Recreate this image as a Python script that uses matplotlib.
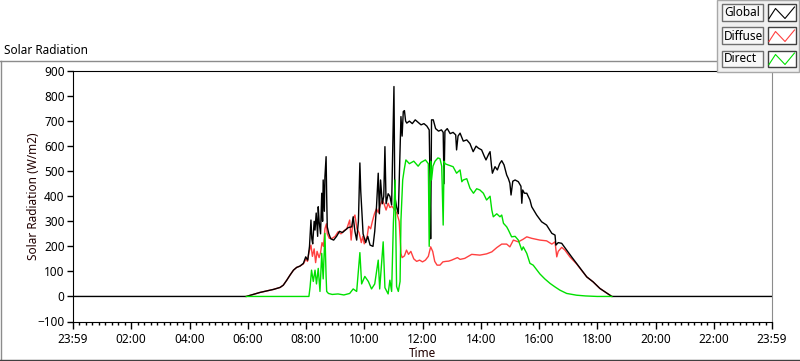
import matplotlib
matplotlib.use('Agg')
import matplotlib.pyplot as plt
from matplotlib.patches import Rectangle
from matplotlib.lines import Line2D

plt.rcParams['font.family'] = ['Noto Sans', 'DejaVu Sans']

# time in hours after 23:59 of the previous day, values in W/m2
global_t = [0.0, 5.95, 6.19, 6.42, 6.65, 6.88, 7.11, 7.22, 7.34, 7.45, 7.57, 7.68, 7.79, 7.91,
            7.99, 8.06, 8.12, 8.17, 8.20, 8.23, 8.28, 8.31, 8.35, 8.40, 8.42, 8.45, 8.50, 8.54,
            8.57, 8.59, 8.63, 8.65, 8.69, 8.71, 8.73, 8.78, 8.85, 8.95, 9.05, 9.15, 9.25, 9.35,
            9.45, 9.57, 9.62, 9.68, 9.74, 9.80, 9.85, 9.88, 9.91, 9.96, 10.05, 10.12, 10.20,
            10.30, 10.36, 10.42, 10.48, 10.52, 10.56, 10.62, 10.67, 10.71, 10.75, 10.82, 10.88,
            10.94, 10.99, 11.02, 11.05, 11.11, 11.17, 11.21, 11.26, 11.30, 11.34, 11.38, 11.42,
            11.46, 11.55, 11.65, 11.75, 11.85, 11.95, 12.05, 12.15, 12.23, 12.26, 12.28, 12.31,
            12.37, 12.45, 12.55, 12.65, 12.71, 12.74, 12.77, 12.85, 12.95, 13.05, 13.14, 13.17,
            13.22, 13.29, 13.40, 13.52, 13.63, 13.74, 13.84, 13.92, 14.03, 14.12, 14.18, 14.28,
            14.32, 14.37, 14.40, 14.49, 14.57, 14.65, 14.72, 14.80, 14.89, 14.95, 15.00, 15.04,
            15.10, 15.18, 15.29, 15.38, 15.41, 15.44, 15.50, 15.58, 15.69, 15.75, 15.92, 16.09,
            16.26, 16.44, 16.55, 16.58, 16.66, 16.78, 16.95, 17.12, 17.29, 17.47, 17.64, 17.86,
            18.09, 18.32, 18.50, 24.0]
global_v = [0, 0, 8, 16, 22, 28, 36, 45, 65, 85, 105, 116, 121, 132,
            158, 145, 200, 305, 230, 210, 300, 265, 333, 240, 358, 300, 250, 412,
            300, 465, 340, 478, 558, 400, 278, 252, 230, 225, 240, 260, 255, 265,
            275, 278, 318, 260, 225, 300, 533, 420, 357, 250, 215, 240, 205,
            200, 260, 357, 492, 330, 465, 370, 400, 598, 370, 410, 400,
            365, 665, 838, 400, 357, 330, 500, 718, 640, 738, 742, 700,
            692, 700, 690, 705, 695, 685, 690, 680, 665, 450, 230, 705,
            705, 670, 660, 665, 655, 450, 660, 670, 650, 655, 645, 585,
            640, 652, 620, 625, 610, 578, 600, 592, 585, 560, 545, 570,
            578, 520, 492, 518, 505, 530, 542, 525, 485, 470, 452, 405,
            460, 465, 458, 440, 372, 425, 412, 412, 385, 358, 325, 298,
            285, 252, 245, 205, 215, 212, 185, 158, 132, 105, 78, 58,
            32, 14, 0, 0]

diffuse_t = [5.95, 6.19, 6.42, 6.65, 6.88, 7.11, 7.22, 7.34, 7.45, 7.57, 7.68, 7.79, 7.91,
             8.00, 8.05, 8.10, 8.17, 8.22, 8.28, 8.33, 8.38, 8.45, 8.50, 8.55, 8.60, 8.65,
             8.70, 8.73, 8.80, 8.90, 9.00, 9.10, 9.20, 9.30, 9.40, 9.50, 9.55, 9.62, 9.68,
             9.75, 9.82, 9.90, 9.95, 10.00, 10.05, 10.10, 10.15, 10.22, 10.28, 10.35, 10.42,
             10.48, 10.55, 10.62, 10.68, 10.75, 10.82, 10.88, 10.95, 11.05, 11.12, 11.20,
             11.26, 11.30, 11.38, 11.45, 11.52, 11.60, 11.70, 11.80, 11.90, 12.00, 12.10,
             12.20, 12.28, 12.35, 12.42, 12.50, 12.60, 12.70, 12.80, 12.90, 13.00, 13.10,
             13.20, 13.29, 13.45, 13.69, 13.97, 14.20, 14.38, 14.55, 14.72, 14.89, 15.00,
             15.12, 15.29, 15.45, 15.58, 15.75, 16.03, 16.26, 16.44, 16.55, 16.61, 16.66,
             16.78, 16.89, 17.06, 17.29, 17.47, 17.64, 17.86, 18.09, 18.32, 18.50]
diffuse_v = [0, 8, 16, 22, 28, 36, 45, 65, 85, 105, 116, 121, 130,
             150, 140, 175, 205, 160, 190, 135, 180, 155, 175, 215, 200, 270,
             290, 250, 232, 232, 240, 258, 250, 262, 270, 305, 225, 310, 325,
             270, 255, 215, 240, 210, 225, 240, 280, 270, 300, 330, 350,
             335, 365, 385, 370, 345, 372, 355, 360, 345, 332, 300,
             172, 155, 162, 185, 168, 180, 150, 140, 145, 138, 145,
             160, 198, 180, 140, 125, 125, 138, 140, 141, 145, 150,
             155, 148, 152, 168, 165, 170, 178, 195, 209, 209, 198,
             225, 218, 228, 238, 232, 225, 222, 209, 218, 158, 180,
             196, 185, 158, 130, 103, 78, 58, 32, 14, 0]

direct_t = [5.95, 8.10, 8.14, 8.19, 8.25, 8.31, 8.36, 8.42, 8.48, 8.54, 8.59, 8.65, 8.69,
            8.71, 8.77, 8.90, 9.10, 9.30, 9.50, 9.62, 9.74, 9.85, 9.91, 10.02, 10.14, 10.25,
            10.36, 10.48, 10.53, 10.65, 10.71, 10.82, 10.88, 10.94, 11.00, 11.06, 11.11,
            11.17, 11.23, 11.26, 11.32, 11.37, 11.43, 11.55, 11.70, 11.85, 11.95, 12.10,
            12.20, 12.23, 12.28, 12.31, 12.36, 12.43, 12.53, 12.60, 12.66, 12.71, 12.74,
            12.77, 12.88, 13.05, 13.17, 13.29, 13.35, 13.40, 13.52, 13.63, 13.75, 13.86,
            13.97, 14.09, 14.20, 14.32, 14.38, 14.43, 14.55, 14.66, 14.72, 14.78, 14.89,
            14.95, 15.06, 15.18, 15.29, 15.41, 15.46, 15.58, 15.69, 15.80, 16.03, 16.20,
            16.38, 16.55, 16.72, 16.95, 17.29, 17.60, 18.00, 18.50]
direct_v = [0, 0, 38, 105, 60, 105, 50, 112, 20, 172, 70, 252, 80,
            20, 12, 8, 10, 6, 12, 30, 20, 175, 50, 80, 60, 30,
            50, 145, 30, 218, 35, 10, 65, 20, 292, 465, 40,
            20, 60, 305, 465, 505, 545, 530, 540, 520, 535, 545,
            530, 200, 540, 465, 520, 540, 553, 550, 520, 285, 540,
            530, 525, 518, 492, 505, 458, 465, 470, 432, 412, 430,
            425, 412, 385, 400, 345, 318, 330, 318, 325, 292, 278,
            265, 238, 240, 225, 185, 198, 172, 132, 125, 90, 70,
            52, 38, 25, 12, 5, 2, 0, 0]

x_ticks = [0, 2, 4, 6, 8, 10, 12, 14, 16, 18, 20, 22, 24]
x_labels = ['23:59', '02:00', '04:00', '06:00', '08:00', '10:00', '12:00',
            '14:00', '16:00', '18:00', '20:00', '22:00', '23:59']
y_ticks = list(range(-100, 901, 100))

W, H = 800, 361


def fx(x):
    return x / W


def fy(y):
    return 1 - y / H


fig = plt.figure(figsize=(8.0, 3.61), dpi=100)
fig.patch.set_facecolor('white')

ax = fig.add_axes([fx(73), fy(321.5), (772 - 73) / W, (321.5 - 71) / H])
ax.plot(diffuse_t, diffuse_v, color='#FF4040', lw=1.0, zorder=2)
ax.plot(global_t, global_v, color='black', lw=1.0, zorder=3)
ax.plot(direct_t, direct_v, color='#00E000', lw=1.0, zorder=4)

ax.set_xlim(0, 24)
ax.set_ylim(-100, 900)
ax.set_xticks(x_ticks)
ax.set_xticklabels(x_labels)
ax.set_xticks([i * 2 / 9 for i in range(109)], minor=True)
ax.set_yticks(y_ticks)
ax.tick_params(axis='both', which='major', length=4, width=1.0, labelsize=8.5,
               colors='black', direction='out', pad=2)
ax.tick_params(axis='x', which='minor', length=2.5, width=1.0, direction='out')
ax.tick_params(axis='x', which='major', length=5, pad=3)
for s in ['left', 'bottom', 'top']:
    ax.spines[s].set_color('black')
ax.spines['right'].set_color('#8C8C8C')
ax.set_ylabel('Solar Radiation (W/m2)', fontsize=8.5, color='#200000', labelpad=-2)
ax.set_xlabel('Time', fontsize=8.5, color='#200000', labelpad=1)

fig.text(fx(4), fy(50), 'Solar Radiation', fontsize=8.5, va='center', ha='left')

# outer frame
fig.add_artist(Line2D([fx(0), fx(717)], [fy(61), fy(61)], color='#8C8C8C', lw=1.0))
fig.add_artist(Line2D([fx(0.5), fx(0.5)], [fy(61), fy(360)], color='#8C8C8C', lw=1.0))
fig.add_artist(Line2D([fx(0), fx(800)], [fy(359.5), fy(359.5)], color='#404040', lw=1.0))

# legend panel
fig.add_artist(Rectangle((fx(717), fy(72)), 82 / W, 72 / H, facecolor='#F0F0F0',
                         edgecolor='#A8A8A8', lw=1.0, zorder=10))
names = ['Global', 'Diffuse', 'Direct']
colors = ['black', '#FF4040', '#00E000']
for i, (n, c) in enumerate(zip(names, colors)):
    top = 4.5 + i * 23
    fig.add_artist(Rectangle((fx(721.5), fy(top + 16.5)), 41 / W, 16.5 / H,
                             facecolor='#F8F8F8', edgecolor='#707070', lw=1.0, zorder=11))
    fig.text(fx(724), fy(top + 8.5), n, fontsize=8.5, va='center', ha='left', zorder=12)
    fig.add_artist(Rectangle((fx(767.5), fy(top + 16.5)), 28 / W, 16.5 / H,
                             facecolor='white', edgecolor='#404040', lw=1.0, zorder=11))
    fig.add_artist(Line2D([fx(769), fx(775.5), fx(785), fx(794.5)],
                          [fy(top + 14), fy(top + 4), fy(top + 14), fy(top + 2.5)],
                          color=c, lw=0.8, zorder=12))

fig.savefig('out.png', dpi=100)
